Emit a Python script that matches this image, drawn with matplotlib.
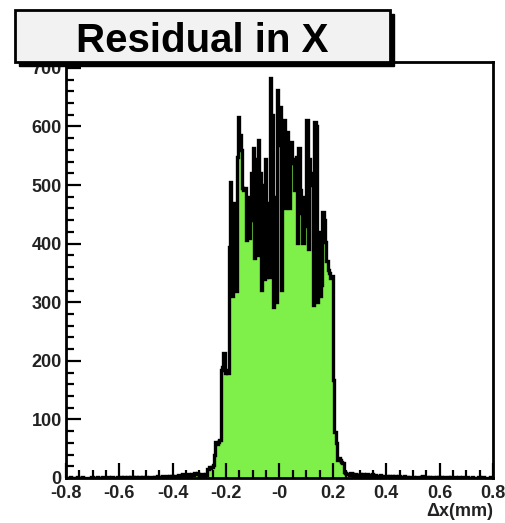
import numpy as np
import matplotlib
matplotlib.use('Agg')
import matplotlib.pyplot as plt
from matplotlib.patches import Rectangle

plt.rcParams['font.family'] = ['Liberation Sans', 'DejaVu Sans']

# histogram: 320 bins of 0.005 mm between -0.8 and 0.8
x_lo, x_hi, n_bins = -0.8, 0.8, 320

# -0.800 .. -0.305
left_tail = [0, 0, 0, 1, 0, 0, 0, 0, 1, 0,
             0, 0, 1, 0, 0, 0, 0, 0, 0, 1,
             0, 0, 0, 1, 0, 0, 0, 1, 0, 0,
             0, 1, 0, 0, 1, 0, 0, 0, 1, 0,
             0, 1, 0, 1, 0, 0, 1, 0, 1, 0,
             1, 0, 1, 0, 2, 1, 0, 1, 0, 2,
             1, 0, 2, 1, 1, 0, 2, 1, 3, 1,
             2, 1, 3, 2, 1, 3, 2, 4, 2, 3,
             2, 4, 3, 2, 5, 3, 4, 6, 3, 5,
             4, 6, 5, 4, 7, 5, 8, 6, 9, 7]

# -0.300 .. 0.295
core = [3, 4, 6, 3, 7, 5, 15, 19, 17, 19,
        22, 40, 61, 58, 62, 65, 184, 190, 213, 180,
        185, 180, 395, 505, 310, 470, 330, 320, 548, 616,
        585, 560, 495, 491, 495, 406, 480, 410, 440, 520,
        563, 375, 545, 380, 577, 520, 321, 500, 340, 545,
        343, 470, 343, 683, 620, 292, 480, 300, 662, 568,
        633, 321, 560, 611, 460, 590, 470, 460, 573, 537,
        545, 491, 548, 401, 563, 491, 452, 401, 480, 430,
        611, 390, 545, 500, 520, 295, 608, 600, 300, 420,
        310, 330, 454, 440, 402, 370, 355, 350, 341, 345,
        167, 78, 60, 31, 34, 30, 28, 25, 10, 9,
        6, 7, 5, 8, 6, 4, 6, 5, 3, 5]

# 0.300 .. 0.795
right_tail = [6, 4, 7, 5, 4, 6, 3, 5, 4, 6,
              3, 5, 2, 4, 3, 5, 2, 4, 3, 2,
              4, 2, 3, 1, 3, 2, 4, 1, 2, 3,
              1, 2, 1, 3, 1, 2, 0, 2, 1, 1,
              2, 0, 1, 2, 1, 0, 1, 3, 0, 1,
              1, 0, 2, 0, 1, 1, 0, 1, 0, 2,
              0, 1, 0, 1, 0, 0, 2, 0, 1, 0,
              0, 1, 0, 0, 1, 0, 0, 1, 0, 0,
              1, 0, 0, 0, 1, 0, 0, 0, 0, 1,
              0, 0, 1, 0, 0, 0, 0, 0, 1, 0]

counts = np.array(left_tail + core + right_tail, dtype=float)
edges = np.linspace(x_lo, x_hi, n_bins + 1)

x_ticks = [-0.8, -0.6, -0.4, -0.2, 0.0, 0.2, 0.4, 0.6, 0.8]
x_tick_labels = ['-0.8', '-0.6', '-0.4', '-0.2', '-0', '0.2', '0.4', '0.6', '0.8']
y_ticks = [0, 100, 200, 300, 400, 500, 600, 700]

W, H = 506, 523
fig = plt.figure(figsize=(W / 100, H / 100), dpi=100)
fig.patch.set_facecolor('white')
ax = fig.add_axes([66 / W, 45 / H, 427 / W, 416 / H])

ax.stairs(counts, edges, fill=True, color='#7ff04a', zorder=1)
ax.stairs(counts, edges, color='black', linewidth=2.4, zorder=2)

ax.set_xlim(x_lo, x_hi)
ax.set_ylim(0, 710)

ax.set_xticks(x_ticks)
ax.set_xticklabels(x_tick_labels)
ax.set_xticks(np.arange(-0.8, 0.8001, 0.05), minor=True)
ax.set_yticks(y_ticks)
ax.set_yticks(np.arange(0, 711, 20), minor=True)

ax.tick_params(axis='both', which='both', direction='in', width=1.6,
               top=False, right=False, labelsize=13)
ax.tick_params(axis='both', which='major', length=11)
ax.tick_params(axis='both', which='minor', length=6)
ax.tick_params(axis='x', pad=5)
ax.tick_params(axis='y', pad=3)
for lab in ax.get_xticklabels() + ax.get_yticklabels():
    lab.set_fontweight('bold')
    lab.set_color('#222222')
for sp in ax.spines.values():
    sp.set_linewidth(2)

fig.text(493 / W, 1 - 512 / H, '\u0394x(mm)', ha='right', va='center',
         fontsize=13, fontweight='bold', color='#222222')

# title box with shadow
bx, by, bw, bh = 15, 10, 375, 52
fig.patches.append(Rectangle(((bx + 4) / W, 1 - (by + bh + 4) / H), bw / W, bh / H,
                             transform=fig.transFigure, facecolor='black',
                             edgecolor='black', zorder=5))
fig.patches.append(Rectangle((bx / W, 1 - (by + bh) / H), bw / W, bh / H,
                             transform=fig.transFigure, facecolor='#f2f2f2',
                             edgecolor='black', linewidth=2, zorder=6))
fig.text((bx + bw / 2) / W, 1 - 41 / H, 'Residual in X', ha='center', va='center',
         fontsize=29, fontweight='bold', zorder=7)

fig.savefig('out.png', dpi=100)
